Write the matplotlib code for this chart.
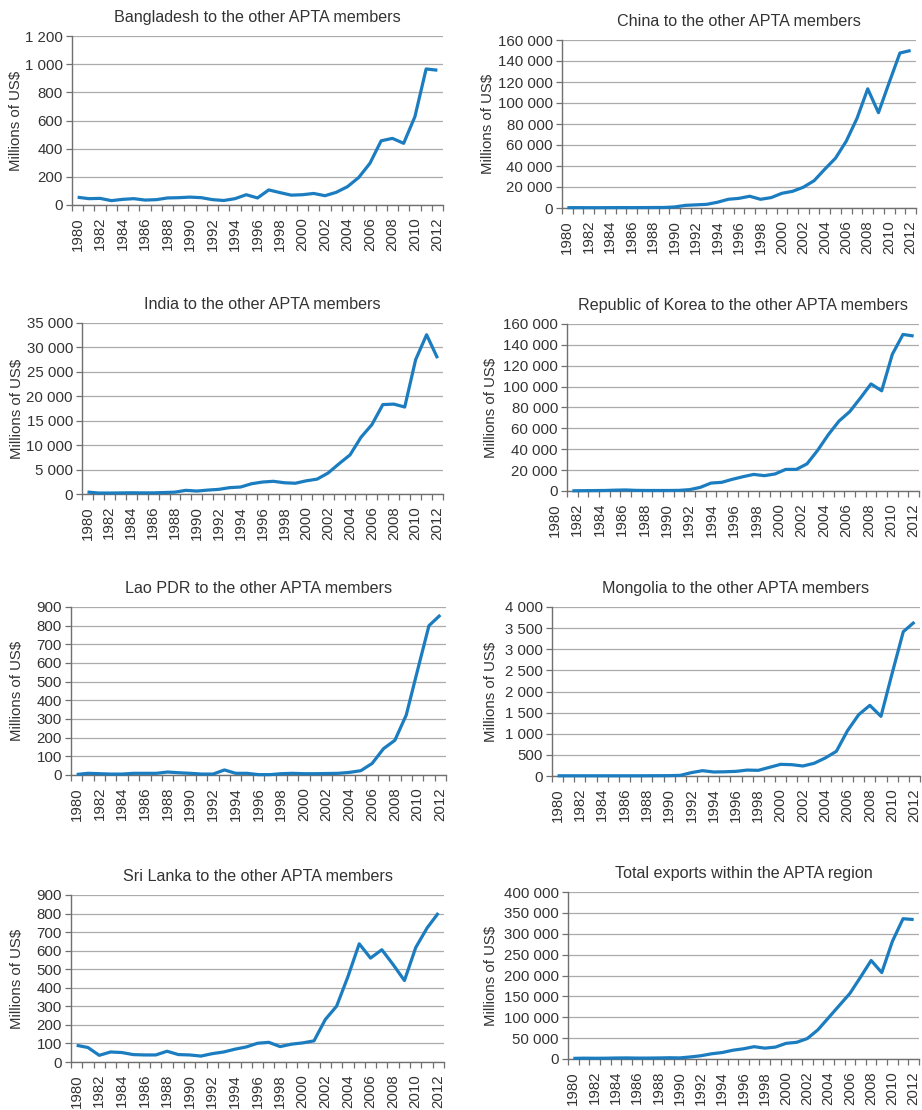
import numpy as np
import matplotlib
matplotlib.use("Agg")
import matplotlib.pyplot as plt
from matplotlib.ticker import FuncFormatter, MultipleLocator, FixedLocator
from matplotlib.transforms import blended_transform_factory

plt.rcParams['font.family'] = ['Liberation Sans', 'DejaVu Sans']

# ---- data (millions of US$) ----
years = list(range(1980, 2013))

bangladesh = [55, 45, 47, 31, 40, 45, 35, 38, 50, 52, 56, 52, 38, 32, 45, 73, 50,
              107, 88, 70, 73, 82, 66, 90, 130, 195, 296, 456, 473, 438, 627, 966, 957]
china = [300, 350, 300, 300, 350, 400, 350, 400, 450, 500, 1000, 2500, 3000, 3500,
         5500, 8300, 9200, 11200, 8300, 9900, 14000, 15900, 19800, 26000, 37000,
         47500, 63700, 85400, 113500, 90800, 119500, 147600, 150000]
india = [400, 200, 200, 220, 250, 230, 230, 300, 380, 750, 600, 800, 950, 1300, 1430,
         2100, 2450, 2600, 2300, 2200, 2700, 3050, 4300, 6200, 8000, 11600, 14200,
         18300, 18400, 17800, 27500, 32600, 27800]
korea = [200, 300, 400, 500, 800, 1000, 600, 500, 500, 500, 600, 1300, 3500, 7600,
         8300, 11200, 13700, 15900, 14700, 16300, 20700, 20700, 26000, 39000, 54000,
         67000, 76000, 89000, 102600, 96000, 131000, 150000, 148500]
lao = [3, 9, 7, 5, 5, 9, 9, 9, 16, 12, 9, 5, 5, 27, 9, 9, 2, 2, 7, 9, 7, 7, 8, 9, 14,
       23, 62, 141, 186, 321, 562, 800, 857]
mongolia = [5, 5, 5, 5, 5, 5, 5, 5, 6, 7, 8, 15, 80, 126, 95, 100, 110, 140, 134, 205,
            276, 268, 237, 300, 426, 584, 1073, 1451, 1672, 1412, 2429, 3415, 3644]
sri_lanka = [90, 78, 36, 54, 51, 40, 38, 38, 58, 40, 38, 32, 45, 54, 69, 81, 101, 106,
             83, 96, 103, 114, 229, 301, 460, 637, 560, 605, 525, 439, 617, 722, 803]
total = [1500, 2000, 1800, 1900, 2400, 2600, 2200, 2200, 2500, 3000, 2600, 4900, 7800,
         12500, 15500, 21000, 24500, 29500, 26000, 28500, 37500, 40000, 49000, 70000,
         99000, 128000, 157000, 196000, 236000, 207000, 282000, 336000, 334000]

titles = ["Bangladesh to the other APTA members",
          "China to the other APTA members",
          "India to the other APTA members",
          "Republic of Korea to the other APTA members",
          "Lao PDR to the other APTA members",
          "Mongolia to the other APTA members",
          "Sri Lanka to the other APTA members",
          "Total exports within the APTA region"]
series = [bangladesh, china, india, korea, lao, mongolia, sri_lanka, total]
y_max = [1200, 160000, 35000, 160000, 900, 4000, 900, 400000]
y_step = [200, 20000, 5000, 20000, 100, 500, 100, 50000]
y_label = "Millions of US$"

# ---- layout (pixels) ----
W, H = 922, 1110
boxes = [(72, 36, 443, 205), (562, 40, 916, 208),
         (82, 323, 443, 494), (567, 324, 919, 491),
         (71, 607, 446, 775), (552, 607, 920, 776),
         (71, 895, 444, 1062), (568, 892, 919, 1059)]
ylabel_x = [16, 488, 17, 491, 17, 491, 17, 491]

BLUE = '#1b7dc0'
GRID = '#ababab'
AXIS = '#707070'
TEXT = '#333333'

fig = plt.figure(figsize=(W / 100, H / 100), dpi=100)
fmt = FuncFormatter(lambda v, _: f"{v:,.0f}".replace(",", " "))

for i, (title, vals) in enumerate(zip(titles, series)):
    l, t, r, b = boxes[i]
    ax = fig.add_axes([l / W, 1 - b / H, (r - l) / W, (b - t) / H])
    ax.plot(years, vals, color=BLUE, lw=2.3, solid_joinstyle='round',
            solid_capstyle='butt', clip_on=False, zorder=4)

    ax.set_xlim(years[0] - 0.5, years[-1] + 0.5)
    ax.set_ylim(0, y_max[i])
    ax.yaxis.set_major_locator(MultipleLocator(y_step[i]))
    ax.yaxis.set_major_formatter(fmt)
    ax.grid(axis='y', color=GRID, lw=0.9)
    ax.set_axisbelow(True)

    for s in ('top', 'right'):
        ax.spines[s].set_visible(False)
    for s in ('left', 'bottom'):
        ax.spines[s].set_color(AXIS)
        ax.spines[s].set_linewidth(1.0)

    # category boundaries carry the tick marks, labels sit on every other year
    ax.xaxis.set_minor_locator(FixedLocator(np.arange(years[0] - 0.5, years[-1] + 1, 1.0)))
    label_years = years[::2]
    if i == 3:
        # this panel's year labels are spread slightly wider than its categories
        pos = np.linspace(1978.34, 2012.0, len(label_years))
    else:
        pos = np.array(label_years, dtype=float)
    inside = pos >= years[0] - 0.5
    ax.set_xticks(pos[inside])
    ax.set_xticklabels([str(y) for y, k in zip(label_years, inside) if k])
    trans = blended_transform_factory(ax.transData, ax.transAxes)
    for p, y, k in zip(pos, label_years, inside):
        if not k:
            ax.annotate(str(y), xy=(p, 0), xycoords=trans, xytext=(0, -8.6),
                        textcoords='offset points', rotation=90, ha='center',
                        va='top', fontsize=10.8, color=TEXT, annotation_clip=False)

    ax.tick_params(axis='x', which='major', length=0, pad=8.6, labelrotation=90,
                   labelsize=10.8, labelcolor=TEXT)
    ax.tick_params(axis='x', which='minor', length=4, width=0.9, color=AXIS,
                   direction='out')
    ax.tick_params(axis='y', which='major', length=4, width=0.9, color=AXIS,
                   pad=2.5, labelsize=10.8, labelcolor=TEXT)

    ax.annotate(title, xy=(0.5, 1), xycoords='axes fraction', xytext=(0, 13.3),
                textcoords='offset points', ha='center', va='center',
                fontsize=11.6, color=TEXT)
    ax.set_ylabel(y_label, fontsize=10.8, color=TEXT, va='center')
    ax.yaxis.set_label_coords((ylabel_x[i] - l) / (r - l), 0.5)

fig.savefig("out.png", dpi=100)
